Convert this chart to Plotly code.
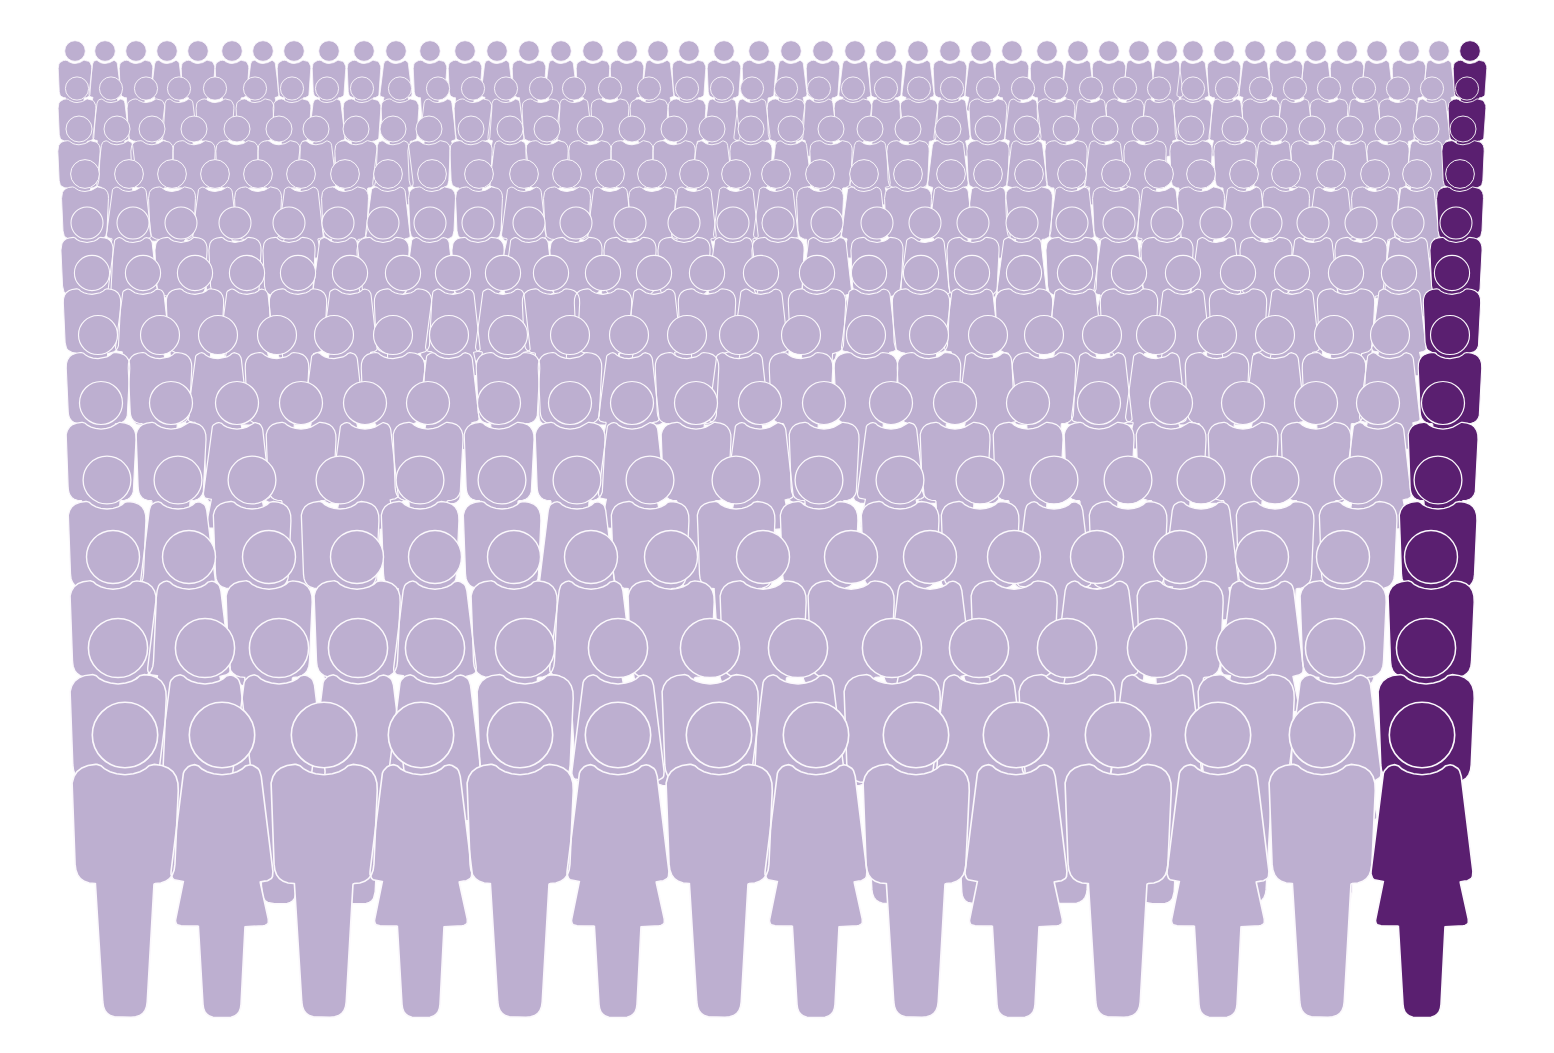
import plotly.graph_objects as go

# head centre of each person per row, back row first
fila_y = [51, 88.5, 129, 174, 223, 273, 335, 403, 480, 557, 648, 735]
fila_r = [10.3, 11.6, 13, 14.4, 16, 17.6, 19.5, 21.5, 23.9, 26.5, 29.6, 32.7]

fila_x = [
    [75, 105, 136, 167, 198, 232, 263, 294, 329, 364, 396, 430, 465, 497, 529, 561, 593, 627, 658, 689, 724, 759, 791,
     823, 855, 886, 918, 950, 981, 1012, 1047, 1078, 1109, 1139, 1167, 1193, 1224, 1255, 1286, 1316, 1347, 1377, 1409, 1439, 1470],
    [77, 111, 146, 179, 215, 255, 292, 327, 362, 400, 438, 473, 506, 541, 574, 610, 649, 687, 722, 752, 786,
     819, 853, 886, 919, 952, 988, 1023, 1056, 1091, 1125, 1159, 1193, 1227, 1261, 1295, 1329, 1364, 1398, 1432, 1467],
    [79, 117, 152, 194, 237, 279, 316, 356, 393, 429, 471, 510, 547, 590, 632, 674, 712, 751, 791,
     831, 870, 908, 948, 988, 1027, 1066, 1105, 1145, 1191, 1235, 1274, 1312, 1350, 1388, 1426, 1463],
    [85, 129, 172, 215, 258, 301, 345, 388, 432, 479, 524, 567, 610, 652, 694, 736, 776,
     820, 864, 908, 951, 988, 1029, 1072, 1116, 1159, 1201, 1244, 1286, 1331, 1375, 1417, 1460],
    [87, 133, 181, 235, 289, 338, 383, 430, 478, 529, 576, 630, 684, 733, 778,
     827, 877, 925, 973, 1022, 1072, 1119, 1167, 1216, 1266, 1313, 1361, 1408, 1456],
    [92, 143, 195, 247, 298, 350, 403, 453, 503, 551, 603, 654, 707, 761, 817, 869, 921, 972,
     1024, 1075, 1129, 1183, 1238, 1292, 1346, 1399, 1452],
    [98, 160, 218, 277, 334, 393, 449, 508, 570, 629, 687, 739, 801, 866, 929, 988,
     1044, 1102, 1156, 1217, 1275, 1334, 1390, 1450],
    [101, 171, 237, 301, 365, 428, 499, 570, 632, 696, 760, 824, 891, 955, 1028, 1099, 1171, 1243, 1316, 1378, 1443],
    [107, 178, 252, 340, 420, 502, 577, 650, 736, 819, 900, 980, 1054, 1128, 1201, 1275, 1358, 1438],
    [113, 189, 269, 357, 435, 514, 591, 671, 763, 851, 930, 1014, 1097, 1180, 1262, 1343, 1431],
    [118, 205, 279, 358, 435, 525, 618, 710, 798, 892, 979, 1067, 1157, 1246, 1335, 1426],
    [125, 222, 324, 421, 520, 618, 719, 816, 916, 1016, 1118, 1218, 1322, 1422],
]

# M / F silhouette per person, same order as fila_x
fila_tipo = [
    "MFMFMMFMMMFM" + "MFMFMMFMMMF" + "MFMFMFMMFMF" + "FFMFMFMFMFM",
    "MFMFMMMFMMF" + "MFMFMMMFFM" + "FMFMFMFMFMF" + "MFMFMFMFM",
    "MFMMMMFMFM" + "MFMMMMFMF" + "MFMFMFMFM" + "MMFMFMFM",
    "MFMFMFMFM" + "MFMFMFFF" + "MFMFFMFMF" + "MFMFMFM",
    "MFMMMFMF" + "MFMMMFM" + "FMFMFMFM" + "FMFMFM",
    "MFMFMFMFFMMFMFMFMF" + "MFMFMFMFM",
    "MMFMFMFM" + "MFMFMMMF" + "MFFMFMFM",
    "MMFMFMMMFMFMFMMMMMMFM",
    "MFMMMMFMMMMMFMFMMM",
    "MFMMFMFMMMFMFMFMM",
    "MFFFFMFMFMFMFMFM",
    "MFMFMFMFMFMFMF",
]

CLARO = "#bdafd0"
OSCURO = "#5a1f70"
BORDE = "#fbf8fc"

# half silhouettes, in units where the head radius is 98: dx, dy, corner radius
HOMBRE = [(0, 119, 0), (25, 116, 0), (45, 110, 0), (62, 101, 0), (72, 92, 0), (84, 88, 0), (163, 92, 75),
          (147, 445, 58), (87, 445, 4), (64, 846, 46), (0, 846, 0)]
MUJER = [(0, 119, 0), (25, 116, 0), (45, 110, 0), (60, 102, 0), (70, 93, 0), (82, 89, 0), (114, 94, 30),
         (156, 436, 28), (114, 439, 4), (143, 571, 20), (69, 573, 4), (55, 847, 40), (0, 847, 0)]


def redondear(puntos):
    salida = []
    for i, (x, y, rad) in enumerate(puntos):
        if rad == 0:
            salida.append((x, y))
            continue
        ax, ay = puntos[i - 1][:2]
        bx, by = puntos[i + 1][:2]
        da = ((ax - x) ** 2 + (ay - y) ** 2) ** 0.5
        db = ((bx - x) ** 2 + (by - y) ** 2) ** 0.5
        p0 = (x + (ax - x) * min(rad / da, 0.95), y + (ay - y) * min(rad / da, 0.95))
        p2 = (x + (bx - x) * min(rad / db, 0.95), y + (by - y) * min(rad / db, 0.95))
        for k in range(7):
            t = k / 6
            salida.append((
                (1 - t) ** 2 * p0[0] + 2 * t * (1 - t) * x + t ** 2 * p2[0],
                (1 - t) ** 2 * p0[1] + 2 * t * (1 - t) * y + t ** 2 * p2[1],
            ))
    return salida


def silueta(mitad):
    derecha = redondear(mitad)
    izquierda = [(-x, y) for x, y in reversed(derecha)]
    return [(x / 98, y / 98) for x, y in derecha + izquierda]


PLANTILLA = {"M": silueta(HOMBRE), "F": silueta(MUJER)}


def cuerpos(xs, tipos, y0, r):
    px, py = [], []
    for x0, tipo in zip(xs, tipos):
        for dx, dy in PLANTILLA[tipo]:
            px.append(x0 + dx * r)
            py.append(y0 + dy * r)
        px.append(None)
        py.append(None)
    return px, py


fig = go.Figure()

for xs, tipos, y0, r in zip(fila_x, fila_tipo, fila_y, fila_r):
    ancho = 0.45 + r * 0.036
    # the last person of every row is the highlighted one
    grupos = [(xs[:-1], tipos[:-1], CLARO), (xs[-1:], tipos[-1:], OSCURO)]
    for gx, gt, color in grupos:
        px, py = cuerpos(gx, gt, y0, r)
        fig.add_trace(go.Scatter(
            x=px, y=py, mode="lines", fill="toself", fillcolor=color,
            line=dict(color=BORDE, width=ancho), hoverinfo="skip", showlegend=False,
        ))
        fig.add_trace(go.Scatter(
            x=gx, y=[y0] * len(gx), mode="markers",
            marker=dict(size=2 * r, color=color, line=dict(color=BORDE, width=ancho)),
            hoverinfo="skip", showlegend=False,
        ))

# the page has an 8 px body margin, so the axes start at 8
fig.update_layout(
    width=1530,
    height=1030,
    margin=dict(l=0, r=0, t=0, b=0),
    paper_bgcolor="white",
    plot_bgcolor="white",
    xaxis=dict(range=[8, 1538], visible=False),
    yaxis=dict(range=[1038, 8], visible=False),
)

fig.write_html("out.html")
